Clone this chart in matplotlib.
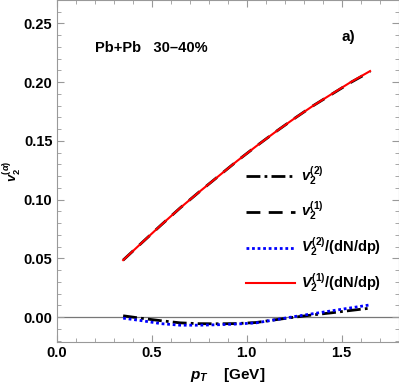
import matplotlib
matplotlib.use("Agg")
import matplotlib.pyplot as plt
from matplotlib.ticker import MultipleLocator

pt = [0.35, 0.45, 0.55, 0.65, 0.75, 0.85, 0.95, 1.05, 1.15, 1.25, 1.35, 1.45, 1.55, 1.65]
v2_1 = [0.0486, 0.0636, 0.0785, 0.0930, 0.1066, 0.1198, 0.1330, 0.1455, 0.1575,
        0.1690, 0.1800, 0.1900, 0.2000, 0.2090]
V2_1_dn = [0.0486, 0.0636, 0.0785, 0.0930, 0.1066, 0.1198, 0.1330, 0.1455, 0.1575,
           0.1690, 0.1800, 0.1902, 0.2003, 0.2095]
v2_2 = [0.0012, -0.0010, -0.0030, -0.0048, -0.0055, -0.0056, -0.0054, -0.0045,
        -0.0022, 0.0000, 0.0020, 0.0038, 0.0058, 0.0077]
V2_2_dn = [-0.0008, -0.0030, -0.0055, -0.0068, -0.0068, -0.0064, -0.0058, -0.0048,
           -0.0022, 0.0005, 0.0030, 0.0055, 0.0080, 0.0105]

plt.rcParams['font.family'] = ['Liberation Sans', 'DejaVu Sans']
plt.rcParams['mathtext.fontset'] = 'custom'
plt.rcParams['mathtext.it'] = 'Liberation Sans:italic:bold'
plt.rcParams['mathtext.rm'] = 'Liberation Sans:bold'
plt.rcParams['mathtext.bf'] = 'Liberation Sans:bold'

fig = plt.figure(figsize=(3.99, 3.85), dpi=100)
ax = fig.add_axes([0.142, 0.112, 0.857, 0.888])

ax.axhline(0, color='#777777', lw=0.9, zorder=1)
l1, = ax.plot(pt, v2_2, color='black', lw=2, ls=(0, (5, 1.5, 1, 1.5)))
l2, = ax.plot(pt, v2_1, color='black', lw=2, ls=(0, (5, 3)))
l3, = ax.plot(pt, V2_2_dn, color='blue', lw=2, ls=(0, (1, 1)))
l4, = ax.plot(pt, V2_1_dn, color='red', lw=1.5)

ax.set_xlim(0, 1.8)
ax.set_ylim(-0.021, 0.27)
ax.xaxis.set_minor_locator(MultipleLocator(0.1))
ax.yaxis.set_minor_locator(MultipleLocator(0.01))
ax.set_xticks([0, 0.5, 1.0, 1.5])
ax.set_xticklabels(['0.0', '0.5', '1.0', '1.5'])
ax.set_yticks([0, 0.05, 0.1, 0.15, 0.2, 0.25])
ax.set_yticklabels(['0.00', '0.05', '0.10', '0.15', '0.20', '0.25'])
ax.tick_params(which='both', direction='in', top=True, right=True, color='#999999')
ax.tick_params(which='major', length=5, labelsize=10.5, pad=3)
ax.tick_params(which='minor', length=3)
for lab in ax.get_xticklabels() + ax.get_yticklabels():
    lab.set_fontweight('bold')
for s in ax.spines.values():
    s.set_color('#999999')

ax.set_xlabel(r'$p_T$    [GeV]', fontsize=11, fontweight='bold', labelpad=4)
ax.set_ylabel(r'$v_2^{(\alpha)}$', fontsize=9.5)
ax.yaxis.set_label_coords(-0.098, 0.5)

ax.text(0.20, 0.226, 'Pb+Pb   30\u201340%', fontsize=10.5, fontweight='bold')
ax.text(1.50, 0.235, 'a)', fontsize=11, fontweight='bold')

ax.legend([l1, l2, l3, l4],
          [r'$v_2^{(2)}$', r'$v_2^{(1)}$', r'$V_2^{(2)}$/(dN/dp)', r'$V_2^{(1)}$/(dN/dp)'],
          loc='upper left', bbox_to_anchor=(0.515, 0.557), frameon=False,
          handlelength=3.4, handletextpad=0.4, labelspacing=0.85,
          prop={'weight': 'bold', 'size': 10.5})

fig.savefig('out.png', dpi=100)
